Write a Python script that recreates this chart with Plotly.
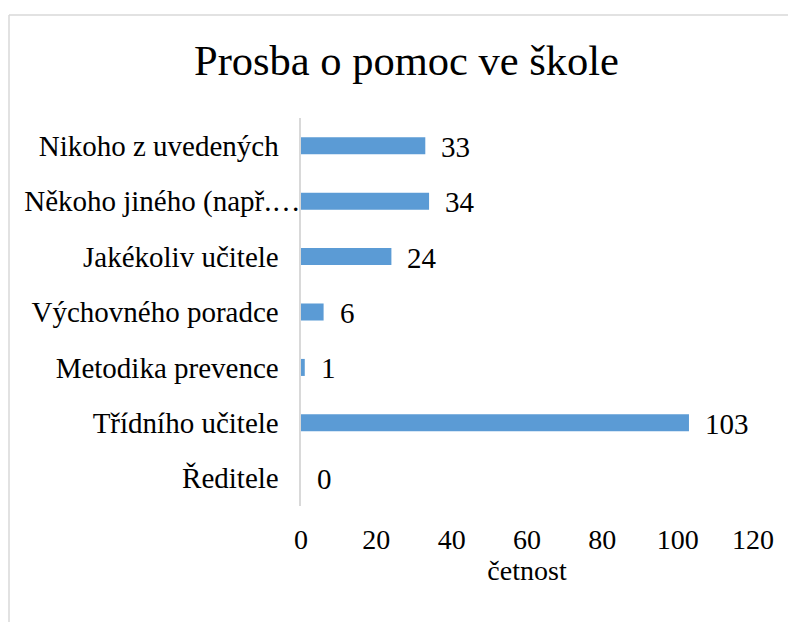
import plotly.graph_objects as go

categories = ["Ředitele", "Třídního učitele", "Metodika prevence", "Výchovného poradce",
              "Jakékoliv učitele", "Někoho jiného (např.…", "Nikoho z uvedených"]
values = [0, 103, 1, 6, 24, 34, 33]
x_ticks = [0, 20, 40, 60, 80, 100, 120]
# The truncated label in the original runs up to the axis; the others stop short of it.
tick_text = [c if c.endswith("…") else c + "\u2002\u00a0" for c in categories]

FONT = "Liberation Serif, Times New Roman, serif"
BAR = "#5B9BD5"
W, H = 796, 622
L, R, T, B = 293, 51, 110, 124
PW, PH = W - L - R, H - T - B

fig = go.Figure()
fig.add_trace(go.Bar(
    x=values, y=categories, orientation="h",
    marker=dict(color=BAR, line=dict(width=0)),
    hoverinfo="x+y",
))

for c, v in zip(categories, values):
    fig.add_annotation(x=v, y=c, xref="x", yref="y", text=str(v), showarrow=False,
                       xanchor="left", yanchor="middle", xshift=14, yshift=-1,
                       font=dict(family=FONT, size=29, color="#000000"))

bx = (1 - L) / PW
by = (H - B - 7) / PH

fig.update_layout(
    width=W, height=H,
    margin=dict(l=L, r=R, t=T, b=B, autoexpand=False),
    paper_bgcolor="white", plot_bgcolor="white",
    bargap=0.693,
    showlegend=False,
    title=dict(text="Prosba o pomoc ve škole", x=398.5 / W, xref="container", xanchor="center",
               y=1 - 52 / H, yref="container", yanchor="middle",
               font=dict(family=FONT, size=42.5, color="#000000")),
    font=dict(family=FONT, size=29, color="#000000"),
    xaxis=dict(range=[0, 120], tickvals=x_ticks, showgrid=False, zeroline=False,
               showline=False, ticks="", ticklabelstandoff=14, automargin=False,
               tickfont=dict(family=FONT, size=28, color="#000000"),
               title=dict(text="četnost", standoff=6,
                          font=dict(family=FONT, size=28, color="#000000"))),
    yaxis=dict(categoryorder="array", categoryarray=categories,
               tickmode="array", tickvals=categories, ticktext=tick_text,
               showgrid=False, automargin=False,
               zeroline=False, showline=True, linecolor="#D9D9D9", linewidth=1.5,
               ticks="", ticklabelstandoff=-7,
               tickfont=dict(family=FONT, size=29, color="#000000")),
    shapes=[
        dict(type="line", xref="paper", yref="paper",
             x0=bx, x1=1.5, y0=by, y1=by, line=dict(color="#D9D9D9", width=1.5)),
        dict(type="line", xref="paper", yref="paper",
             x0=bx, x1=bx, y0=by, y1=-0.5, line=dict(color="#D9D9D9", width=1.5)),
    ],
)

fig.write_html("out.html")
